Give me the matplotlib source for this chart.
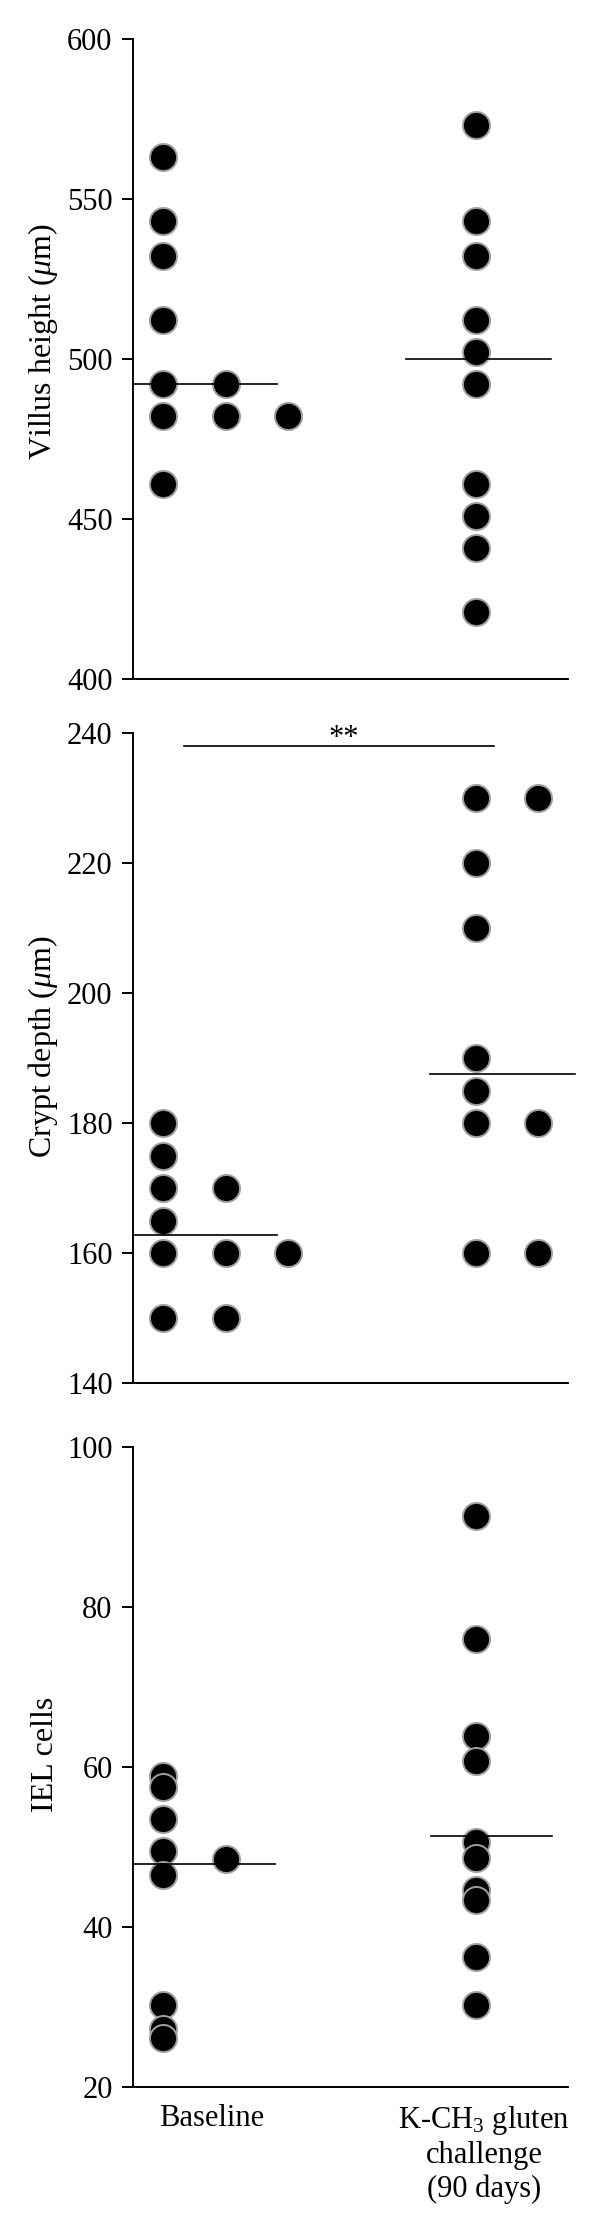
import matplotlib
matplotlib.use('Agg')
import matplotlib.pyplot as plt

plt.rcParams['font.family'] = 'serif'
plt.rcParams['font.serif'] = ['Liberation Serif', 'DejaVu Serif']
plt.rcParams['mathtext.fontset'] = 'custom'
plt.rcParams['mathtext.rm'] = 'Liberation Serif'
plt.rcParams['mathtext.it'] = 'Liberation Serif:italic'

# group labels (x axis of the bottom panel)
groups = ['Baseline', 'K-CH$_3$ gluten\nchallenge\n(90 days)']

# values, one list per column of dots
villus_base = [[563, 543, 532, 512, 492, 482, 461], [492, 482], [482]]
villus_gluten = [[573, 543, 532, 512, 502, 492, 461, 451, 441, 421]]
villus_median = [492, 500]

crypt_base = [[180, 175, 170, 165, 160, 150], [170, 160, 150], [160]]
crypt_gluten = [[230, 220, 210, 190, 185, 180, 160], [230, 180, 160]]
crypt_median = [162.8, 187.6]
crypt_sig = 237.9

iel_base = [[58.9, 57.5, 53.5, 49.5, 46.5, 30.2, 27.2, 26.1], [48.5]]
iel_gluten = [[91.3, 76.0, 63.8, 60.7, 50.6, 48.6, 44.6, 43.4, 36.3, 30.2]]
iel_median = [47.9, 51.3]

W, H = 600, 2230
fig = plt.figure(figsize=(W / 100, H / 100), dpi=100)

left_px, right_px = 132.7, 568
xmin, xmax = -0.290, 1.308
col_start = [-0.178, -0.031]
col_step = 0.229
fs = 22

panels = [
    dict(top=39, bot=678.7, base=villus_base, glu=villus_gluten, med=villus_median,
         ylim=(400, 600), ticks=[400, 450, 500, 550, 600],
         label='Villus height ($\\mu$m)', ly=0.527,
         seg=[(xmin, 0.239), (0.715, 1.246)]),
    dict(top=732.7, bot=1383.3, base=crypt_base, glu=crypt_gluten, med=crypt_median,
         ylim=(140, 240), ticks=[140, 160, 180, 200, 220, 240],
         label='Crypt depth ($\\mu$m)', ly=0.517,
         seg=[(xmin, 0.239), (0.803, 1.332)]),
    dict(top=1446.7, bot=2087, base=iel_base, glu=iel_gluten, med=iel_median,
         ylim=(20, 100), ticks=[20, 40, 60, 80, 100],
         label='IEL cells', ly=0.519,
         seg=[(xmin, 0.232), (0.806, 1.249)]),
]

axes = []
for p in panels:
    ax = fig.add_axes([left_px / W, (H - p['bot']) / H,
                       (right_px - left_px) / W, (p['bot'] - p['top']) / H])
    axes.append(ax)
    ax.set_xlim(xmin, xmax)
    ax.set_ylim(*p['ylim'])
    ax.set_yticks(p['ticks'])
    for side in ['top', 'right']:
        ax.spines[side].set_visible(False)
    for side in ['left', 'bottom']:
        ax.spines[side].set_linewidth(1.4)
    ax.tick_params(axis='y', direction='out', length=8, width=1.4, pad=6.5,
                   labelsize=fs)
    ax.tick_params(axis='x', length=0, pad=12, labelsize=fs)
    ax.set_xticks([])

    for g, cols in enumerate([p['base'], p['glu']]):
        for k, vals in enumerate(cols):
            x = g + col_start[g] + k * col_step
            ax.plot([x] * len(vals), vals, 'o', ms=19.5, mfc='black',
                    mec='#a0a0a0', mew=1.4, clip_on=False, zorder=3)
    for (x0, x1), m in zip(p['seg'], p['med']):
        ax.plot([x0, x1], [m, m], color='black', lw=1.2, clip_on=False, zorder=4)

    ax.set_ylabel(p['label'], fontsize=23)
    ax.yaxis.set_label_coords(-0.168, p['ly'])

# significance bar on crypt depth
axes[1].plot([-0.102, 1.037], [crypt_sig, crypt_sig], color='black', lw=1.2,
             clip_on=False)
axes[1].text(0.486, crypt_sig, '**', ha='center', va='baseline', fontsize=fs)

axes[2].set_xticks([0, 1])
axes[2].set_xticklabels(groups, fontsize=fs)

fig.savefig('out.png', dpi=100)
